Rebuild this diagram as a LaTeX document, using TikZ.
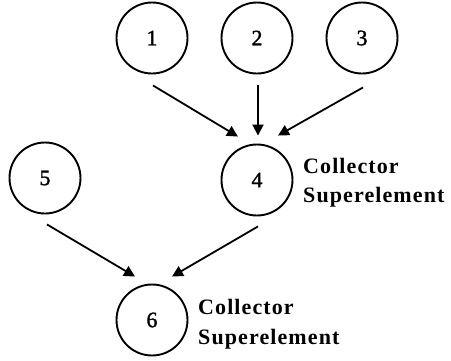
\documentclass[tikz,border=0pt]{standalone}
\usepackage{fontspec}
\setmainfont{Liberation Serif}
\newfontfamily\lblfont[LetterSpace=5]{Liberation Serif}
\newfontfamily\digfont[FakeBold=1.5]{Liberation Serif}
\usetikzlibrary{arrows.meta,calc}
\begin{document}
\begin{tikzpicture}[x=1pt,y=-1pt,
  circ/.style={draw,circle,line width=1.9pt,minimum size=71pt,inner sep=0pt,font=\digfont\fontsize{22}{22}\selectfont},
  arr/.style={line width=1.8pt,-{Triangle[length=11pt,width=11pt]}},
  lbl/.style={anchor=base west,inner sep=0pt,font=\lblfont\bfseries\fontsize{22}{22}\selectfont}]
\useasboundingbox (0,0) rectangle (451,360);
\node[circ] (n1) at (152,38) {1};
\node[circ] (n2) at (257,38) {2};
\node[circ] (n3) at (362,38) {3};
\node[circ] (n4) at (257,180) {4};
\node[circ] (n5) at (45,178) {5};
\node[circ] (n6) at (152,320) {6};
\node[lbl] (l4a) at (303,173) {Collector};
\node[lbl] (l4b) at (303,202) {Superelement};
\node[lbl] (l6a) at (198,314) {Collector};
\node[lbl] (l6b) at (198,344) {Superelement};
\coordinate (s1) at ($(n1.south)+(1,11)$);
\coordinate (s2) at ($(n2.south)+(1,11)$);
\coordinate (s3) at ($(n3.south)+(1,13)$);
\coordinate (s5) at ($(n5.south)+(2,10)$);
\coordinate (s4) at ($(n4.south)+(1,10)$);
\coordinate (t41) at ($(n4.north)+(-19,-7)$);
\coordinate (t42) at ($(n4.north)+(1,-8)$);
\coordinate (t43) at ($(n4.north)+(21,-8)$);
\coordinate (t65) at ($(n6.north)+(-17,-7)$);
\coordinate (t64) at ($(n6.north)+(20,-7)$);
\draw[arr] (s1) -- (t41);
\draw[arr] (s2) -- (t42);
\draw[arr] (s3) -- (t43);
\draw[arr] (s5) -- (t65);
\draw[arr] (s4) -- (t64);
\end{tikzpicture}
\end{document}
